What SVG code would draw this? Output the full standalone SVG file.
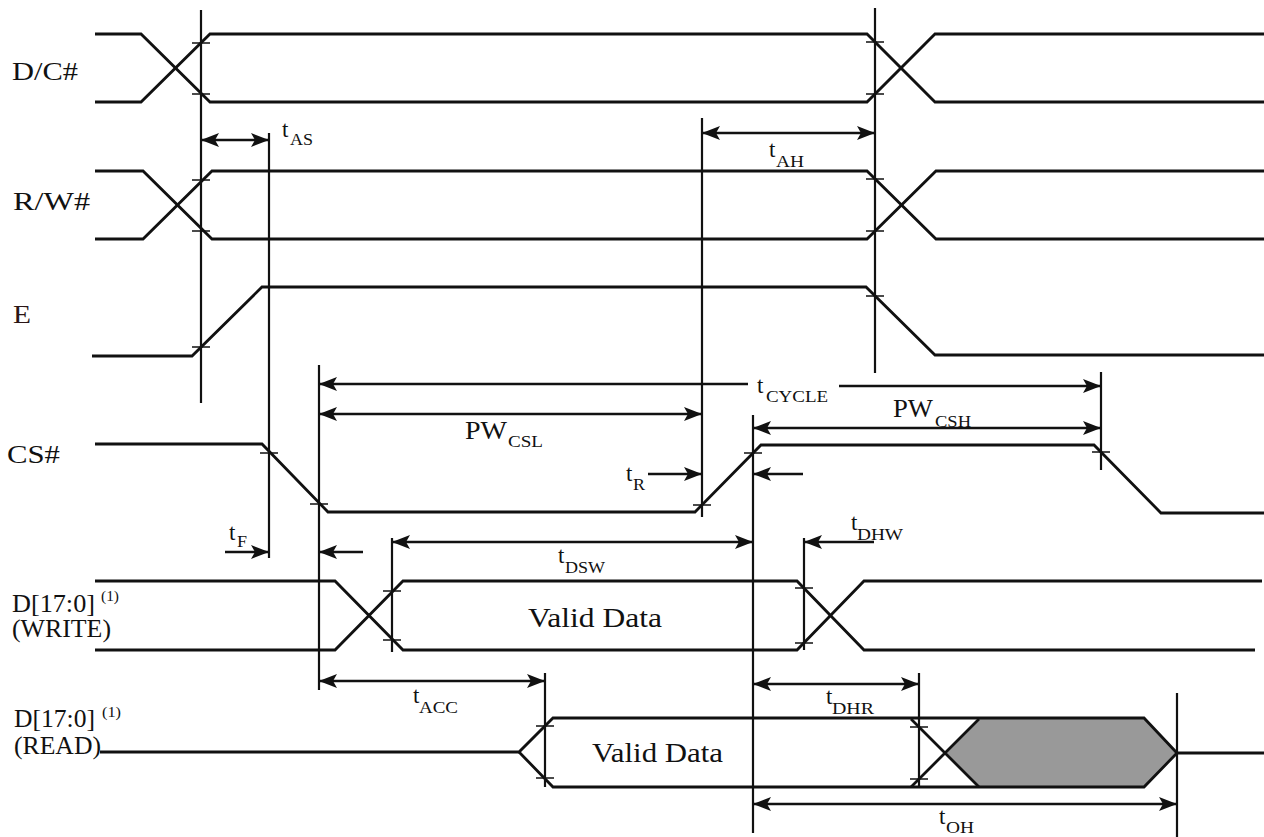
<svg xmlns="http://www.w3.org/2000/svg" width="1264" height="837" viewBox="0 0 1264 837">
<style>
.sig{fill:none;stroke:#111;stroke-width:2.8;stroke-linejoin:miter}
.vl{fill:none;stroke:#111;stroke-width:2.2}
.tk{fill:none;stroke:#111;stroke-width:1.3}
.ar{fill:none;stroke:#111;stroke-width:2.4}
text{font-family:"Liberation Serif","Times New Roman",serif;fill:#111}
.big{font-size:26px}
.t{font-size:23px}
.sub{font-size:16px}
.pw{font-size:26px}
.sup{font-size:14px}
</style>
<defs>
<marker id="ah" markerUnits="userSpaceOnUse" markerWidth="19" markerHeight="15" refX="18" refY="7" orient="auto-start-reverse">
<path d="M0,0 L18,7 L0,14 L4,7 Z" fill="#111"/>
</marker>
</defs>
<rect width="1264" height="837" fill="#fff"/>

<g id="labels">
<text class="big" x="12" y="80" textLength="66" lengthAdjust="spacingAndGlyphs">D/C#</text>
<text class="big" x="13" y="210" textLength="77" lengthAdjust="spacingAndGlyphs">R/W#</text>
<text class="big" x="13" y="323" textLength="18" lengthAdjust="spacingAndGlyphs" style="fill:#2a1515">E</text>
<text class="big" x="7" y="463" textLength="53" lengthAdjust="spacingAndGlyphs">CS#</text>
<text class="big" x="12" y="612" textLength="83" lengthAdjust="spacingAndGlyphs" style="font-size:25px">D[17:0]</text>
<text class="sup" x="101" y="601" textLength="18" lengthAdjust="spacingAndGlyphs">(1)</text>
<text class="big" x="12" y="637" textLength="99" lengthAdjust="spacingAndGlyphs" style="font-size:25px">(WRITE)</text>
<text class="big" x="14" y="727" textLength="81" lengthAdjust="spacingAndGlyphs" style="font-size:25px">D[17:0]</text>
<text class="sup" x="102" y="717" textLength="19" lengthAdjust="spacingAndGlyphs">(1)</text>
<text class="big" x="14" y="754" textLength="87" lengthAdjust="spacingAndGlyphs" style="font-size:25px">(READ)</text>
</g>

<g id="sig-dc">
<path class="sig" d="M95,34 H141 L210,102 H867 L935,34 H1264"/>
<path class="sig" d="M95,102 H141 L210,34 H867 L935,102 H1264"/>
</g>
<g id="sig-rw">
<path class="sig" d="M95,171 H143 L212,239 H867 L936,171 H1264"/>
<path class="sig" d="M95,239 H143 L212,171 H867 L936,239 H1264"/>
</g>
<g id="sig-e">
<path class="sig" d="M92,356 H192 L262,287 H866 L935,355 H1264"/>
</g>
<g id="sig-cs">
<path class="sig" d="M95,444 H262 L328,512 H695 L761,445 H1094 L1161,513 H1264"/>
</g>
<g id="sig-write">
<path class="sig" d="M95,581 H335 L403,650 H797 L864,581 H1262"/>
<path class="sig" d="M95,650 H335 L403,581 H797 L864,650 H1255"/>
<text class="big" x="528" y="627" textLength="134" lengthAdjust="spacingAndGlyphs" style="font-size:28px">Valid Data</text>
</g>
<g id="sig-read">
<polygon points="946,753 979,719 1144,719 1177,753 1144,787 979,787" fill="#999" stroke="none"/>
<path class="sig" d="M100,752 H519 L553,718 H1144 L1177,753 H1264"/>
<path class="sig" d="M519,752 L553,787 H1144 L1177,753"/>
<path class="sig" d="M911,719 L979,787 M911,787 L979,719"/>
<text class="big" x="592" y="762" textLength="131" lengthAdjust="spacingAndGlyphs" style="font-size:28px">Valid Data</text>
</g>

<g id="ticks">
<path class="tk" d="M192,43 h18 M192,94 h18 M866,42 h18 M866,94 h18 M192,180 h18 M192,231 h18 M866,179 h18 M866,231 h18 M192,347 h18 M866,296 h18 M260,453 h18 M310,504 h18 M693,505 h18 M744,453 h18 M1092,452 h18 M383,591 h18 M383,640 h18 M795,588 h18 M795,643 h18 M536,726 h18 M536,778 h18 M910,727 h18 M910,779 h18"/>
</g>

<g id="connectors">
<path class="vl" d="M201,10 V403 M875,8 V373 M269,133 V558 M702,118 V517 M319,365 V690 M753,415 V833 M1101,372 V470 M392,538 V652 M804,538 V650 M545,673 V787 M919,673 V787 M1177,693 V837"/>
<line class="ar" x1="201" y1="140" x2="269" y2="140" marker-start="url(#ah)" marker-end="url(#ah)"/>
<line class="ar" x1="702" y1="133" x2="875" y2="133" marker-start="url(#ah)" marker-end="url(#ah)"/>
<line class="ar" x1="748" y1="384" x2="319" y2="384" marker-end="url(#ah)"/>
<line class="ar" x1="839" y1="386" x2="1101" y2="386" marker-end="url(#ah)"/>
<line class="ar" x1="319" y1="414" x2="702" y2="414" marker-start="url(#ah)" marker-end="url(#ah)"/>
<line class="ar" x1="753" y1="428" x2="1101" y2="428" marker-start="url(#ah)" marker-end="url(#ah)"/>
<line class="ar" x1="648" y1="474" x2="702" y2="474" marker-end="url(#ah)"/>
<line class="ar" x1="803" y1="474" x2="753" y2="474" marker-end="url(#ah)"/>
<line class="ar" x1="225" y1="552" x2="269" y2="552" marker-end="url(#ah)"/>
<line class="ar" x1="363" y1="552" x2="319" y2="552" marker-end="url(#ah)"/>
<line class="ar" x1="392" y1="542" x2="753" y2="542" marker-start="url(#ah)" marker-end="url(#ah)"/>
<line class="ar" x1="874" y1="542" x2="804" y2="542" marker-end="url(#ah)"/>
<line class="ar" x1="319" y1="681" x2="545" y2="681" marker-start="url(#ah)" marker-end="url(#ah)"/>
<line class="ar" x1="753" y1="684" x2="919" y2="684" marker-start="url(#ah)" marker-end="url(#ah)"/>
<line class="ar" x1="753" y1="804" x2="1177" y2="804" marker-start="url(#ah)" marker-end="url(#ah)"/>
</g>

<g id="timing-labels">
<text class="t" x="282" y="137">t</text><text class="sub" x="290" y="145" textLength="23" lengthAdjust="spacingAndGlyphs">AS</text>
<text class="t" x="769" y="157">t</text><text class="sub" x="776" y="167" textLength="28" lengthAdjust="spacingAndGlyphs">AH</text>
<text class="t" x="757" y="393">t</text><text class="sub" x="766" y="402" textLength="62" lengthAdjust="spacingAndGlyphs">CYCLE</text>
<text class="pw" x="465" y="439" textLength="42" lengthAdjust="spacingAndGlyphs">PW</text><text class="sub" x="508" y="447" textLength="35" lengthAdjust="spacingAndGlyphs">CSL</text>
<text class="pw" x="893" y="417" textLength="40" lengthAdjust="spacingAndGlyphs">PW</text><text class="sub" x="935" y="427" textLength="36" lengthAdjust="spacingAndGlyphs">CSH</text>
<text class="t" x="626" y="481">t</text><text class="sub" x="633" y="490" textLength="12" lengthAdjust="spacingAndGlyphs">R</text>
<text class="t" x="229" y="540">t</text><text class="sub" x="237" y="547" textLength="10" lengthAdjust="spacingAndGlyphs">F</text>
<text class="t" x="558" y="563">t</text><text class="sub" x="565" y="573" textLength="40" lengthAdjust="spacingAndGlyphs">DSW</text>
<text class="t" x="851" y="530">t</text><text class="sub" x="857" y="540" textLength="46" lengthAdjust="spacingAndGlyphs">DHW</text>
<text class="t" x="413" y="703">t</text><text class="sub" x="419" y="713" textLength="39" lengthAdjust="spacingAndGlyphs">ACC</text>
<text class="t" x="826" y="704">t</text><text class="sub" x="832" y="714" textLength="42" lengthAdjust="spacingAndGlyphs">DHR</text>
<text class="t" x="939" y="824">t</text><text class="sub" x="946" y="833" textLength="28" lengthAdjust="spacingAndGlyphs">OH</text>
</g>
</svg>
